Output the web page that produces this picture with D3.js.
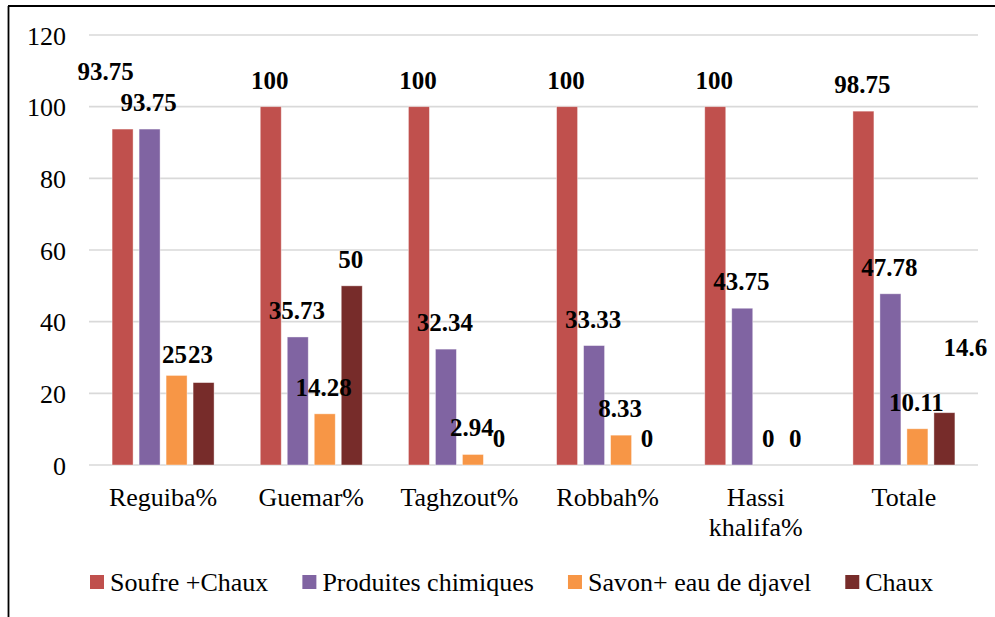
<!DOCTYPE html>
<html>
<head>
<meta charset="utf-8">
<script src="https://cdn.jsdelivr.net/npm/d3@7"></script>
<style>
  html, body { margin: 0; padding: 0; background: #fff; }
  svg { display: block; }
</style>
</head>
<body>
<svg id="chart" width="995" height="617"></svg>
<script>
// Treatment usage by locality (%)
const categories = ["Reguiba%", "Guemar%", "Taghzout%", "Robbah%", "Hassi khalifa%", "Totale"];
const seriesNames = ["Soufre +Chaux", "Produites chimiques", "Savon+ eau de djavel", "Chaux"];
const soufreChaux = [93.75, 100, 100, 100, 100, 98.75];
const produitsChimiques = [93.75, 35.73, 32.34, 33.33, 43.75, 47.78];
const savonJavel = [25, 14.28, 2.94, 8.33, 0, 10.11];
const chaux = [23, 50, 0, 0, 0, 14.6];
const yTicks = [0, 20, 40, 60, 80, 100, 120];
const colors = ["#C0504D", "#8064A2", "#F79646", "#772C2A"];

// Hand-placed data labels that sit away from their bar (series index, category index, dx, dy)
const labelNudges = [
  [0, 0, -17, -49],
  [2, 0, -2, -12],
  [3, 0, -3, -20],
  [3, 5, 21, -57]
];

const FONT = "'Liberation Serif', 'Times New Roman', 'DejaVu Serif', serif";

const seriesValues = [soufreChaux, produitsChimiques, savonJavel, chaux];
const rows = [];
seriesValues.forEach((vals, s) => vals.forEach((v, c) => rows.push({ s, c, v })));

const svg = d3.select("#chart");

// Frame
svg.append("line").attr("x1", 8).attr("x2", 995).attr("y1", 6).attr("y2", 6)
  .attr("stroke", "#000").attr("stroke-width", 1.8);
svg.append("line").attr("x1", 8.5).attr("x2", 8.5).attr("y1", 6).attr("y2", 617)
  .attr("stroke", "#000").attr("stroke-width", 1.8);

const plot = { left: 89, right: 978, top: 35, bottom: 465 };

const x = d3.scaleBand().domain(categories).range([plot.left, plot.right]).paddingInner(0).paddingOuter(0);
const xs = d3.scaleBand().domain(d3.range(seriesNames.length))
  .range([0, x.bandwidth()]).paddingInner(6 / 27).paddingOuter(0.855);
const y = d3.scaleLinear().domain([0, 120]).range([plot.bottom, plot.top]);

// Gridlines
svg.append("g").selectAll("line").data(yTicks).join("line")
  .attr("x1", plot.left).attr("x2", plot.right)
  .attr("y1", d => y(d)).attr("y2", d => y(d))
  .attr("stroke", "#d9d9d9").attr("stroke-width", 1.6);

// Y axis labels
const yAxis = svg.append("g").attr("transform", `translate(66,0)`)
  .call(d3.axisLeft(y).tickValues(yTicks).tickSize(0).tickPadding(0).tickFormat(d3.format("d")));
yAxis.attr("font-family", null).attr("font-size", null);
yAxis.select(".domain").remove();
yAxis.selectAll("text").style("font-family", FONT).style("font-size", "26px")
  .attr("dy", "0.35em").attr("fill", "#000");

// Bars
svg.append("g").selectAll("rect").data(rows).join("rect")
  .attr("x", d => x(categories[d.c]) + xs(d.s))
  .attr("width", xs.bandwidth())
  .attr("y", d => y(d.v))
  .attr("height", d => y(0) - y(d.v))
  .attr("fill", d => colors[d.s])
  .attr("stroke", "rgba(255,255,255,0.5)").attr("stroke-width", 0.8);

// Data labels
function nudge(d) {
  const n = labelNudges.find(e => e[0] === d.s && e[1] === d.c);
  return n ? [n[2], n[3]] : [-1, -18];
}
svg.append("g").selectAll("text").data(rows).join("text")
  .attr("x", d => x(categories[d.c]) + xs(d.s) + xs.bandwidth() / 2 + nudge(d)[0])
  .attr("y", d => y(d.v) + nudge(d)[1])
  .attr("text-anchor", "middle")
  .style("font-family", FONT)
  .style("font-size", "25px").style("font-weight", "bold")
  .text(d => d.v);

// Category labels (split onto lines at spaces)
const xl = svg.append("g").selectAll("text").data(categories).join("text")
  .attr("x", d => x(d) + x.bandwidth() / 2)
  .attr("y", 506)
  .attr("text-anchor", "middle")
  .style("font-family", FONT)
  .style("font-size", "26px");
xl.each(function (d) {
  const t = d3.select(this);
  d.split(" ").forEach((w, i) => {
    t.append("tspan").attr("x", x(d) + x.bandwidth() / 2).attr("dy", i === 0 ? 0 : 30).text(w);
  });
});

// Legend
const legend = svg.append("g");
let lx = 90;
seriesNames.forEach((name, i) => {
  legend.append("rect").attr("x", lx).attr("y", 575).attr("width", 14).attr("height", 14).attr("fill", colors[i]);
  const t = legend.append("text").attr("x", lx + 20).attr("y", 591)
    .style("font-family", FONT).style("font-size", "26px").text(name);
  lx += 20 + t.node().getComputedTextLength() + 34;
});
</script>
</body>
</html>
